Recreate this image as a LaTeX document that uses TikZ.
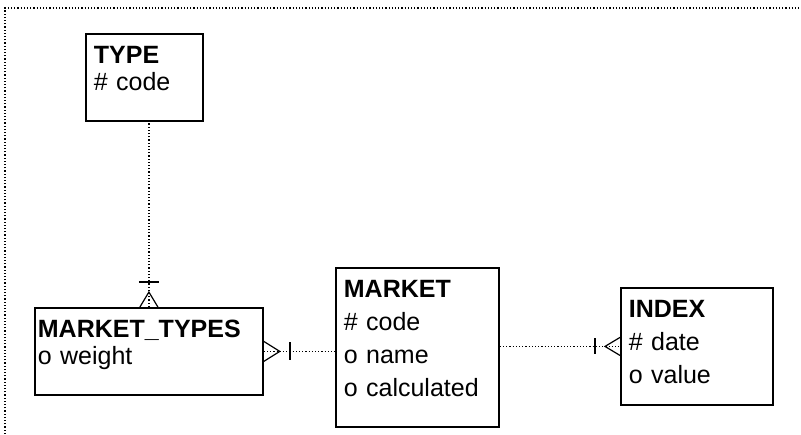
\documentclass[tikz,border=0pt]{standalone}
\usepackage{fontspec}
\setmainfont{Liberation Sans}
\usetikzlibrary{calc}
\usetikzlibrary{positioning}

\begin{document}
\begin{tikzpicture}[
		x=0.5pt, y=-0.5pt,
		ent/.style = {rectangle, draw=black, line width=0.9pt, anchor=north west, align=left, inner xsep=4pt, inner ysep=0pt, text height=15pt, font=\fontsize{12.5}{16.5}\selectfont},
		tight/.style = {font=\fontsize{12.5}{13.25}\selectfont},
		rel/.style = {densely dotted, line width=0.6pt},
		crow/.style = {line width=0.6pt},
		bar/.style = {line width=0.9pt}
		]
		\useasboundingbox (0,0) rectangle (801,434);
		
		%Frame
		\draw[rel]	(5,434) -- (5,8) -- (801,8);
		
		%Nodes
		\node[ent, tight, text width=50.5pt, text depth=28.5pt]	(type)	at	(85,33)	{\textbf{TYPE}\\\# code};
		\node[ent, tight, inner xsep=1.5pt, text width=111pt, text depth=28.5pt]	(mt)	at	(34,307)	{\textbf{MARKET\_TYPES}\\o weight};
		\node[ent, text width=73.5pt, text depth=64.5pt]	(market)	at	(335,267)	{\textbf{MARKET}\\\# code\\o name\\o calculated};
		\node[ent, text width=68pt, text depth=43.5pt]	(index)	at	(620,287)	{\textbf{INDEX}\\\# date\\o value};
		
		%Lines
		\draw[rel]	(mt.north)	--	(mt.north |- type.south);
		\draw[crow]	($(mt.north)+(-9,0)$) -- ($(mt.north)+(0,-15)$) -- ($(mt.north)+(9,0)$);
		\draw[bar]	($(mt.north)+(-10,-25)$) -- ($(mt.north)+(10,-25)$);
		
		\draw[rel]	(mt.east)	--	(mt.east -| market.west);
		\draw[crow]	($(mt.east)+(0,-10)$) -- ($(mt.east)+(16,0)$) -- ($(mt.east)+(0,10)$);
		\draw[bar]	($(mt.east)+(26,-9)$) -- ($(mt.east)+(26,9)$);
		
		\draw[rel]	(index.west -| market.east)	--	(index.west);
		\draw[crow]	($(index.west)+(0,-9)$) -- ($(index.west)+(-15,0)$) -- ($(index.west)+(0,9)$);
		\draw[bar]	($(index.west)+(-25,-8)$) -- ($(index.west)+(-25,8)$);
	\end{tikzpicture}
\end{document}
